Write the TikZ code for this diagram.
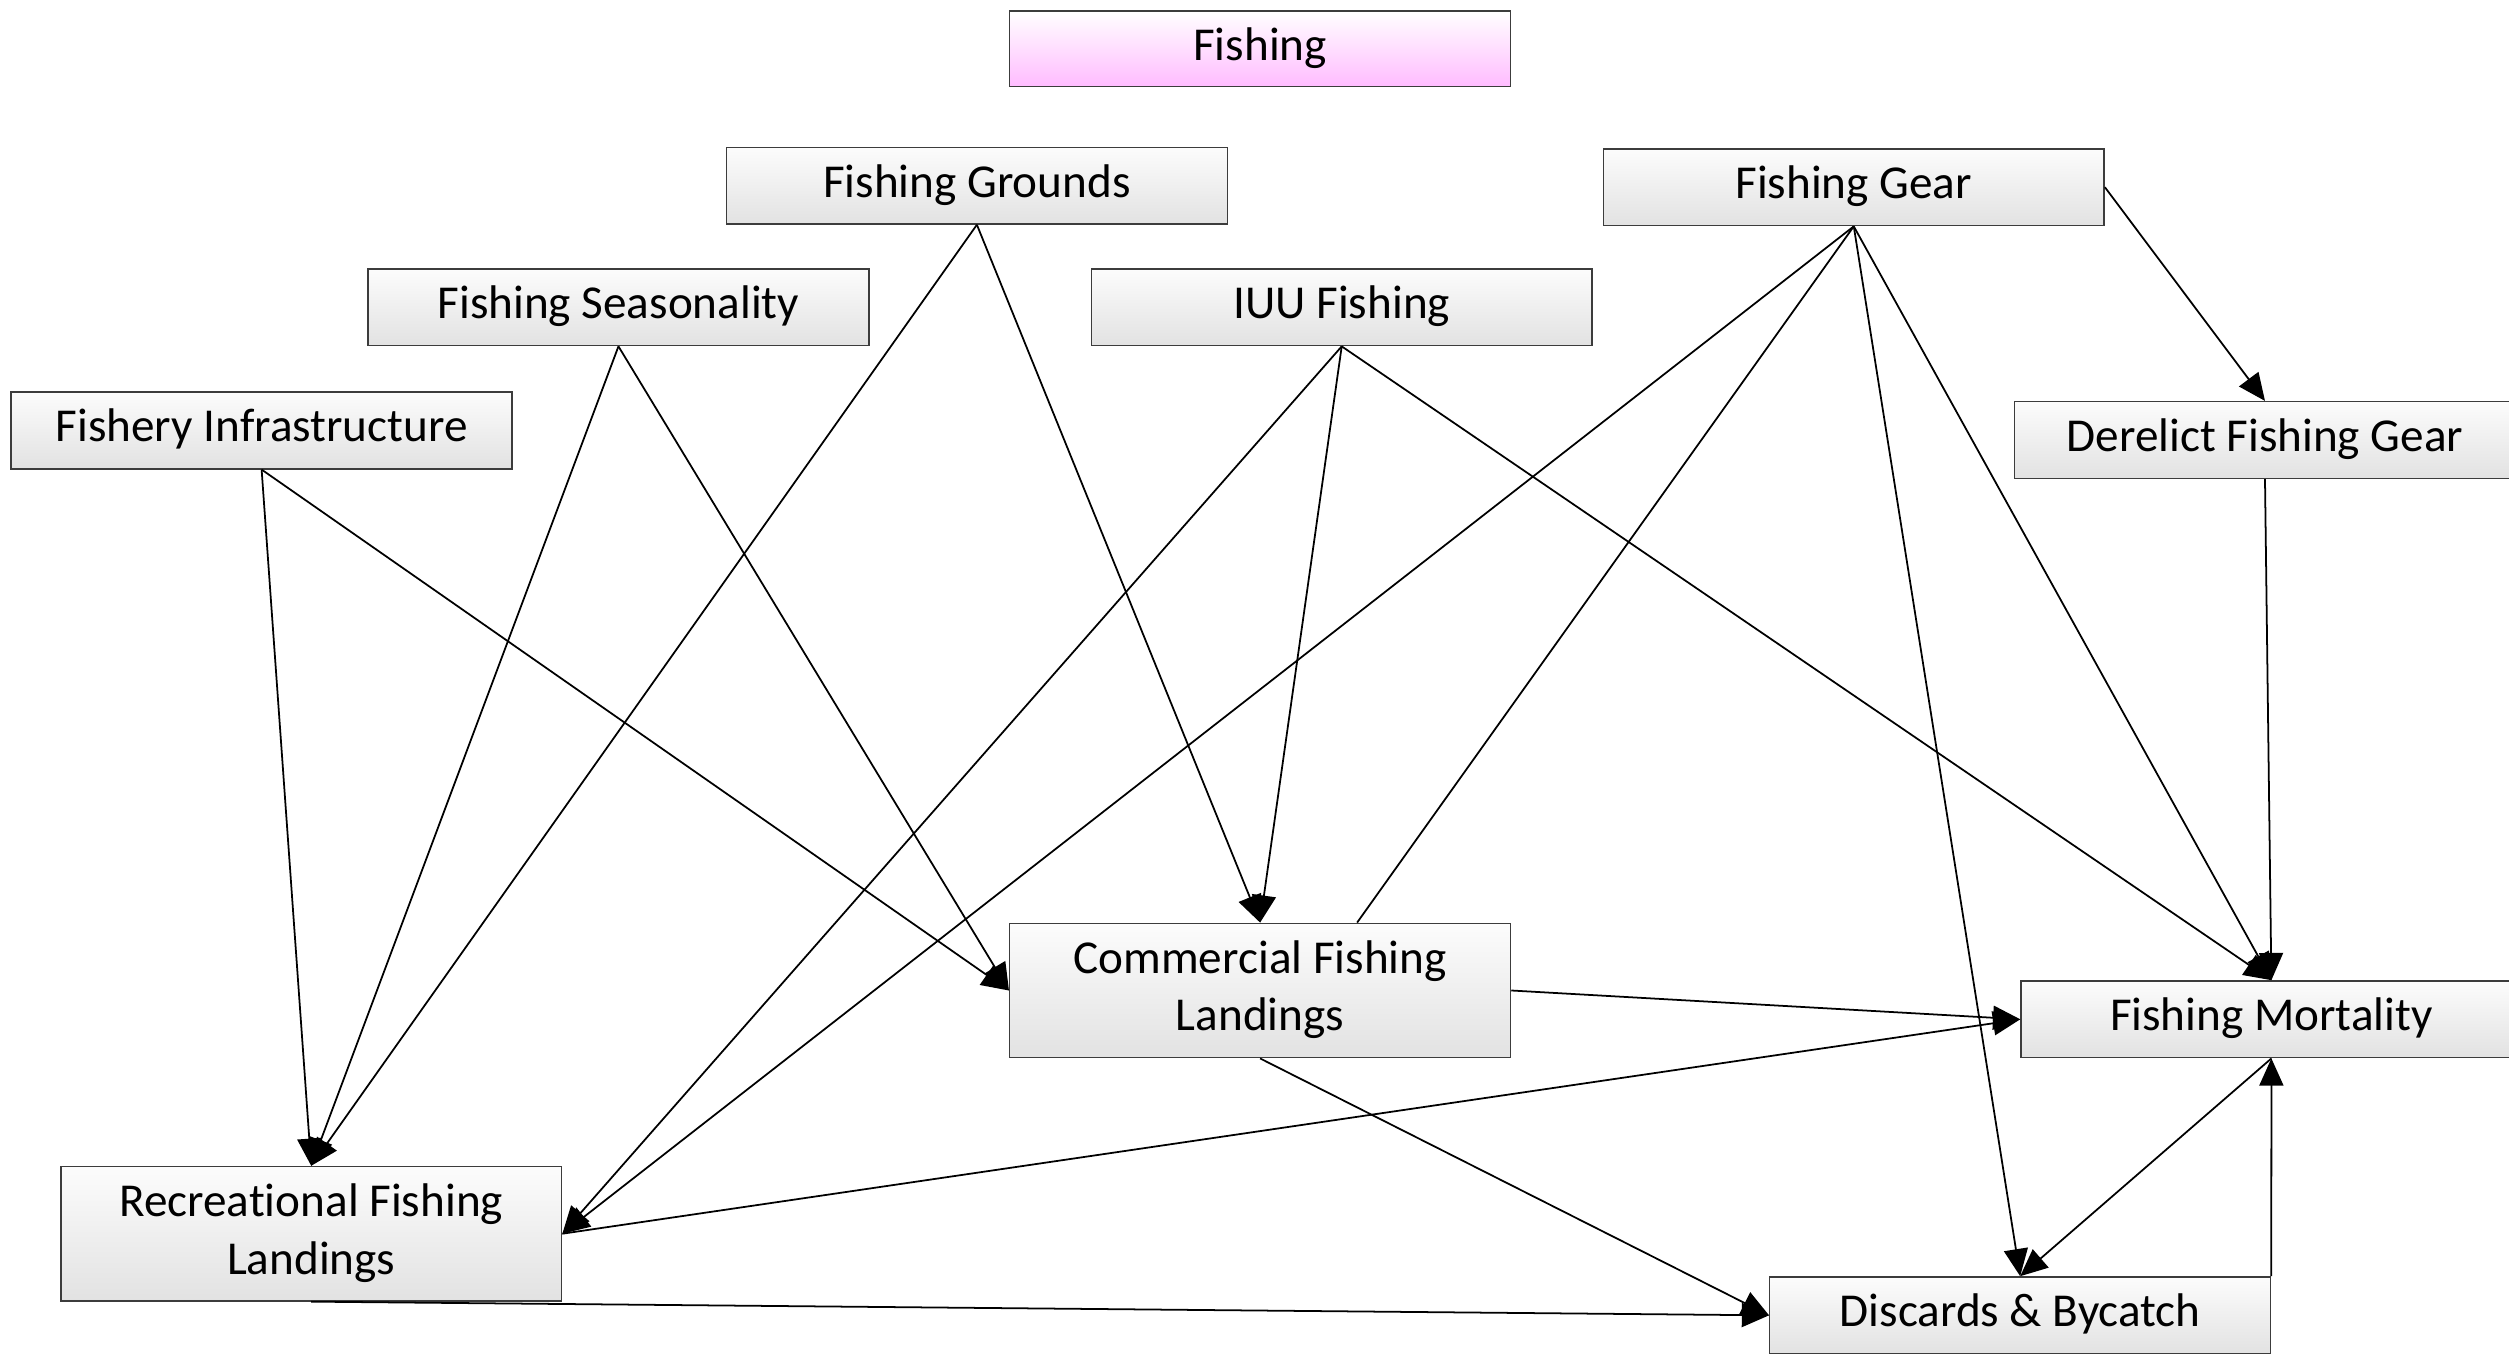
\documentclass[tikz,border=0pt]{standalone}
\usepackage{fontspec}
\setmainfont{Carlito}[Ligatures=NoCommon]
\usetikzlibrary{arrows.meta,calc}
\definecolor{boxtop}{RGB}{252,252,252}
\definecolor{boxbot}{RGB}{226,226,226}
\definecolor{pinkbot}{RGB}{255,188,255}
\definecolor{boxline}{RGB}{60,60,60}
\newcommand{\boxtext}[1]{\raisebox{-2.5pt}{\begin{tabular}{@{}c@{}}#1\end{tabular}}}
\tikzset{
  box/.style={draw=boxline, line width=0.9pt, rectangle, minimum width=313pt, minimum height=48pt,
    top color=boxtop, bottom color=boxbot, inner sep=0pt,
    font=\fontsize{29.5}{36}\selectfont},
  tallbox/.style={box, minimum height=84pt},
  titlebox/.style={box, minimum height=47pt, top color=white, bottom color=pinkbot},
  conn/.style={line width=1.1pt, draw=black},
  arr/.style={conn, -{Triangle[length=17pt,width=15pt]}},
}
\begin{document}
\begin{tikzpicture}[x=1pt,y=-1pt]
\useasboundingbox (0,0) rectangle (1568,847);
\clip (0,0) rectangle (1568,847);
\fill[white] (0,0) rectangle (1568,847);

\node[titlebox] (fishing) at (787.5,30.5) {\boxtext{Fishing}};
\node[box] (grounds) at (610.5,116) {\boxtext{Fishing Grounds}};
\node[box] (gear) at (1158.5,117) {\boxtext{Fishing Gear}};
\node[box] (season) at (386.5,192) {\boxtext{Fishing Seasonality}};
\node[box] (iuu) at (838.5,192) {\boxtext{IUU Fishing}};
\node[box] (infra) at (163.5,269) {\boxtext{Fishery Infrastructure}};
\node[box] (derelict) at (1415.5,275) {\boxtext{Derelict Fishing Gear}};
\node[tallbox] (commercial) at (787.5,619) {\boxtext{Commercial Fishing\\Landings}};
\node[box] (mortality) at (1419.5,637) {\boxtext{Fishing Mortality}};
\node[tallbox] (recreational) at (194.5,771) {\boxtext{Recreational Fishing\\Landings}};
\node[box] (discards) at (1262.5,822) {\boxtext{Discards \& Bycatch}};

\draw[arr] (infra.south) -- (recreational.north);
\draw[arr] (infra.south) -- (commercial.west);
\draw[arr] (season.south) -- (recreational.north);
\draw[arr] (season.south) -- (commercial.west);
\draw[arr] (grounds.south) -- (recreational.north);
\draw[arr] (grounds.south) -- (commercial.north);
\draw[arr] (iuu.south) -- (commercial.north);
\draw[arr] (iuu.south) -- (recreational.east);
\draw[arr] (iuu.south) -- (mortality.north);
\draw[arr] (gear.south) -- (recreational.east);
\draw[conn] (gear.south) -- (commercial.35);
\draw[arr] (gear.south) -- (discards.north);
\draw[arr] (gear.south) -- (mortality.north);
\draw[arr] (gear.east) -- (derelict.north);
\draw[arr] (derelict.south) -- (mortality.north);
\draw[arr] (commercial.east) -- (mortality.west);
\draw[arr] (recreational.east) -- (mortality.west);
\draw[arr] (commercial.south) -- (discards.west);
\draw[arr] (recreational.south) -- (discards.west);
\draw[arr] (mortality.south) -- (discards.north);
\draw[arr] (discards.north east) -- (mortality.south);
\end{tikzpicture}
\end{document}
